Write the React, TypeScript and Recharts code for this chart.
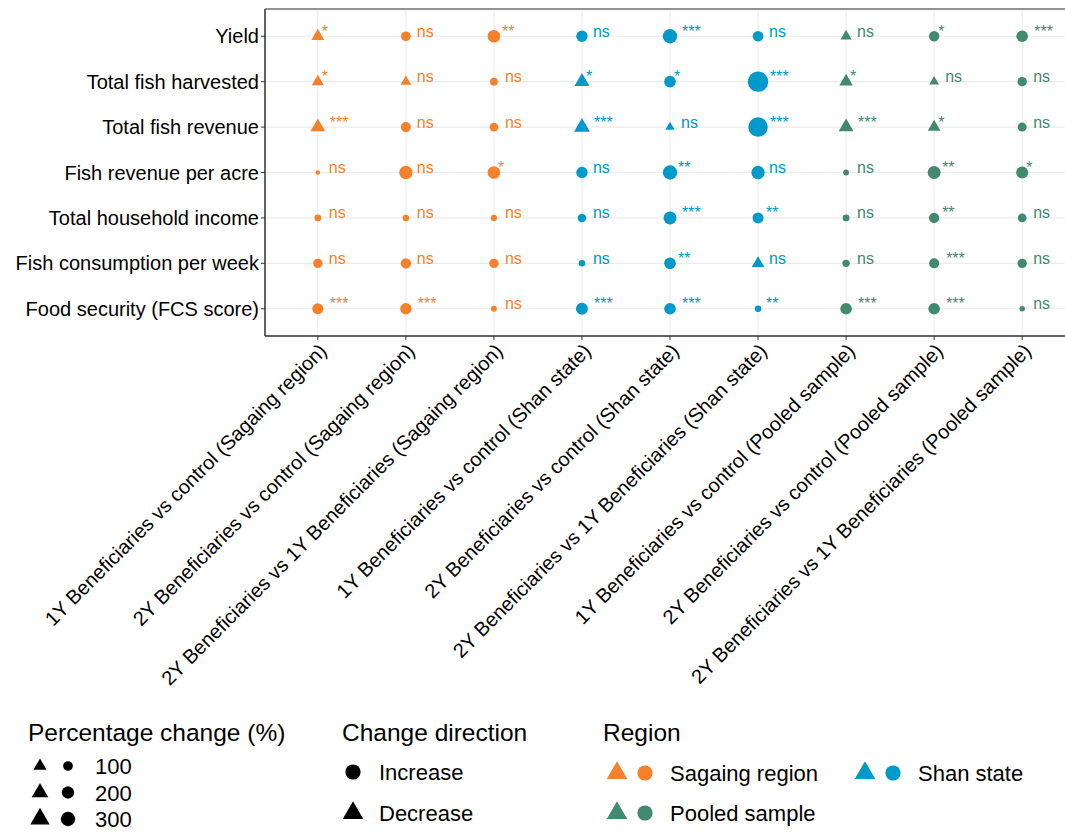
import React from 'react';
import { ScatterChart, Scatter, XAxis, YAxis, CartesianGrid, ReferenceArea } from 'recharts';

const comparisons = [
  '1Y Beneficiaries vs control (Sagaing region)',
  '2Y Beneficiaries vs control (Sagaing region)',
  '2Y Beneficiaries vs 1Y Beneficiaries (Sagaing region)',
  '1Y Beneficiaries vs control (Shan state)',
  '2Y Beneficiaries vs control (Shan state)',
  '2Y Beneficiaries vs 1Y Beneficiaries (Shan state)',
  '1Y Beneficiaries vs control (Pooled sample)',
  '2Y Beneficiaries vs control (Pooled sample)',
  '2Y Beneficiaries vs 1Y Beneficiaries (Pooled sample)',
];

const comparisonRegion = [0, 0, 0, 1, 1, 1, 2, 2, 2];

const outcomes = [
  'Yield',
  'Total fish harvested',
  'Total fish revenue',
  'Fish revenue per acre',
  'Total household income',
  'Fish consumption per week',
  'Food security (FCS score)',
];

const regions = ['Sagaing region', 'Shan state', 'Pooled sample'];
const regionColors = ['#F7812A', '#0099CC', '#428A6F'];

// percentage change (absolute), one row per outcome, one column per comparison
const pctChange = [
  [94, 100, 214, 160, 300, 133, 60, 120, 171],
  [78, 52, 48, 150, 171, 725, 110, 36, 90],
  [145, 110, 72, 175, 32, 650, 145, 94, 80],
  [3, 245, 214, 160, 300, 245, 15, 230, 185],
  [29, 25, 20, 65, 230, 145, 29, 120, 72],
  [90, 120, 90, 24, 171, 85, 40, 110, 90],
  [145, 160, 15, 185, 171, 24, 171, 171, 12],
];

// I = increase, D = decrease
const direction = [
  ['D', 'I', 'I', 'I', 'I', 'I', 'D', 'I', 'I'],
  ['D', 'D', 'I', 'D', 'I', 'I', 'D', 'D', 'I'],
  ['D', 'I', 'I', 'D', 'D', 'I', 'D', 'D', 'I'],
  ['I', 'I', 'I', 'I', 'I', 'I', 'I', 'I', 'I'],
  ['I', 'I', 'I', 'I', 'I', 'I', 'I', 'I', 'I'],
  ['I', 'I', 'I', 'I', 'I', 'D', 'I', 'I', 'I'],
  ['I', 'I', 'I', 'I', 'I', 'I', 'I', 'I', 'I'],
];

const significance = [
  ['*', 'ns', '**', 'ns', '***', 'ns', 'ns', '*', '***'],
  ['*', 'ns', 'ns', '*', '*', '***', '*', 'ns', 'ns'],
  ['***', 'ns', 'ns', '***', 'ns', '***', '***', '*', 'ns'],
  ['ns', 'ns', '*', 'ns', '**', 'ns', 'ns', '**', '*'],
  ['ns', 'ns', 'ns', 'ns', '***', '**', 'ns', '**', 'ns'],
  ['ns', 'ns', 'ns', 'ns', '**', 'ns', 'ns', '***', 'ns'],
  ['***', '***', 'ns', '***', '***', '**', '***', '***', 'ns'],
];

const legendSizes = [100, 200, 300];
const legendKeyPct = 350;

const FONT = '"Liberation Sans", Arial, Helvetica, sans-serif';

const diameter = (pct: number) => 3.4 * (1 + 5 * Math.sqrt(pct / 725));

const Glyph = ({ cx, cy, pct, dir, color }: any) => {
  const d = diameter(pct);
  if (dir === 'D') {
    const b = d * 1.35;
    const h = b * 0.866;
    const pts = `${cx},${cy - (2 * h) / 3} ${cx - b / 2},${cy + h / 3} ${cx + b / 2},${cy + h / 3}`;
    return <polygon points={pts} fill={color} />;
  }
  return <circle cx={cx} cy={cy} r={d / 2} fill={color} />;
};

const PointMark = (props: any) => {
  const { cx, cy, payload, color } = props;
  if (cx == null || cy == null) return null;
  const sig = payload.sig;
  const dx = sig === 'ns' ? 11 : 4 * sig.length;
  return (
    <g>
      <Glyph cx={cx} cy={cy} pct={payload.pct} dir={payload.dir} color={color} />
      <text x={cx + dx} y={cy + 0.5} fill={color} fontSize={16} fontFamily={FONT}>
        {sig}
      </text>
    </g>
  );
};

const XTick = ({ x, y, payload }: any) => (
  <text
    x={x}
    y={y}
    dy="0.72em"
    textAnchor="end"
    transform={`rotate(-45, ${x}, ${y})`}
    fontSize={20}
    fontFamily={FONT}
    fill="#000"
  >
    {comparisons[payload.value]}
  </text>
);

const seriesData = regions.map((_, ri) => {
  const pts: any[] = [];
  outcomes.forEach((_, r) => {
    comparisons.forEach((_, c) => {
      if (comparisonRegion[c] === ri) {
        pts.push({ x: c, y: r, pct: pctChange[r][c], dir: direction[r][c], sig: significance[r][c] });
      }
    });
  });
  return pts;
});

const Legend = () => (
  <svg width={1065} height={132} style={{ position: 'absolute', left: 0, top: 700 }} fontFamily={FONT}>
    <text x={28} y={41} fontSize={24.5} fill="#000">Percentage change (%)</text>
    {legendSizes.map((s, i) => (
      <g key={s}>
        <Glyph cx={40} cy={66 + i * 26.5} pct={s} dir="D" color="#000" />
        <Glyph cx={68} cy={66 + i * 26.5} pct={s} dir="I" color="#000" />
        <text x={95} y={74 + i * 26.5} fontSize={22} fill="#000">{s}</text>
      </g>
    ))}
    <text x={342} y={41} fontSize={24.5} fill="#000">Change direction</text>
    <Glyph cx={353} cy={72} pct={legendKeyPct} dir="I" color="#000" />
    <text x={379} y={80} fontSize={22} fill="#000">Increase</text>
    <Glyph cx={353} cy={113} pct={legendKeyPct} dir="D" color="#000" />
    <text x={379} y={121} fontSize={22} fill="#000">Decrease</text>
    <text x={603} y={41} fontSize={24.5} fill="#000">Region</text>
    {[
      { ri: 0, x: 617, y: 73 },
      { ri: 2, x: 617, y: 113 },
      { ri: 1, x: 865, y: 73 },
    ].map(({ ri, x, y }) => (
      <g key={ri}>
        <Glyph cx={x} cy={y} pct={legendKeyPct} dir="D" color={regionColors[ri]} />
        <Glyph cx={x + 28} cy={y} pct={legendKeyPct} dir="I" color={regionColors[ri]} />
        <text x={x + 53} y={y + 8} fontSize={22} fill="#000">{regions[ri]}</text>
      </g>
    ))}
  </svg>
);

export default function App() {
  return (
    <div style={{ position: 'absolute', left: 0, top: 0, width: 1065, height: 832, overflow: 'hidden', background: '#fff' }}>
      <ScatterChart width={1080} height={700} margin={{ top: 9, right: 5, bottom: 0, left: 7 }}>
        <CartesianGrid stroke="#EBEBEB" strokeWidth={1.1} />
        <XAxis
          type="number"
          dataKey="x"
          domain={[-0.6, 8.6]}
          ticks={[0, 1, 2, 3, 4, 5, 6, 7, 8]}
          interval={0}
          allowDataOverflow
          height={364}
          tickSize={4}
          tick={<XTick />}
          axisLine={{ stroke: '#333' }}
          tickLine={{ stroke: '#333' }}
        />
        <YAxis
          type="number"
          dataKey="y"
          domain={[-0.6, 6.6]}
          ticks={[0, 1, 2, 3, 4, 5, 6]}
          interval={0}
          reversed
          allowDataOverflow
          width={258}
          tickSize={4}
          tickFormatter={(v: number) => outcomes[v]}
          tick={{ fontSize: 20, fill: '#000', fontFamily: FONT }}
          axisLine={{ stroke: '#333' }}
          tickLine={{ stroke: '#333' }}
        />
        <ReferenceArea x1={-0.6} x2={8.6} y1={-0.6} y2={6.6} fill="none" stroke="#333" strokeWidth={1} />
        {regions.map((name, ri) => (
          <Scatter
            key={name}
            name={name}
            data={seriesData[ri]}
            isAnimationActive={false}
            shape={(p: any) => <PointMark {...p} color={regionColors[ri]} />}
          />
        ))}
      </ScatterChart>
      <Legend />
    </div>
  );
}
